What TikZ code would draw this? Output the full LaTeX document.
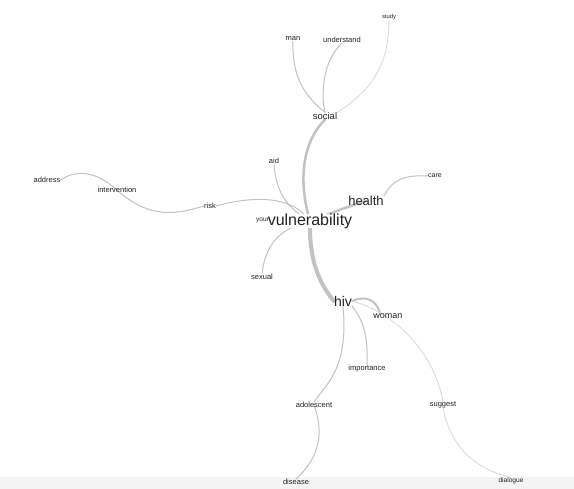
\documentclass[tikz,border=0pt]{standalone}
\usepackage{fontspec}
\setmainfont{Liberation Sans}
\usetikzlibrary{backgrounds}
\definecolor{txt}{HTML}{222222}
\definecolor{edge}{HTML}{C2C2C2}
\definecolor{edgelight}{HTML}{D8D8D8}
\definecolor{band}{HTML}{F4F4F4}
\tikzset{
  word/.style={inner sep=0pt, text=txt, font=\fontsize{7.5}{8}\selectfont},
  link/.style={draw=edge, line width=1pt, line cap=round},
  faint/.style={draw=edgelight, line width=0.8pt, line cap=round},
  trunk/.style={draw=edge, line width=#1, line cap=round},
}
\begin{document}
\begin{tikzpicture}[x=1pt,y=-1pt]
\useasboundingbox (0,0) rectangle (574,489);
% nodes
\node[word, font=\fontsize{5.8}{6}\selectfont] (study) at (389,17) {study};
\node[word] (man) at (293,39) {man};
\node[word] (understand) at (342,40) {understand};
\node[word, font=\fontsize{9.5}{10}\selectfont] (social) at (325,116) {social};
\node[word] (aid) at (274,161) {aid};
\node[word] (address) at (47,180) {address};
\node[word] (intervention) at (117,190) {intervention};
\node[word] (risk) at (210,206) {risk};
\node[word, font=\fontsize{13}{14}\selectfont] (health) at (366,201) {health};
\node[word, font=\fontsize{7}{8}\selectfont] (care) at (435,176) {care};
\node[word, font=\fontsize{6.5}{7}\selectfont] (young) at (265,220) {young};
\node[word] (sexual) at (262,277) {sexual};
\node[word, font=\fontsize{14}{15}\selectfont] (hiv) at (343,301) {hiv};
\node[word, font=\fontsize{9}{10}\selectfont] (woman) at (388,316) {woman};
\node[word] (importance) at (367,369) {importance};
\node[word] (adolescent) at (314,405) {adolescent};
\node[word] (suggest) at (443,405) {suggest};
\node[word] (disease) at (296,482) {disease};
\node[word, font=\fontsize{6.6}{7}\selectfont] (dialogue) at (511,481) {dialogue};
\node[word, font=\fontsize{16}{17}\selectfont, fill=white] (vul) at (310,221) {vulnerability};
% edges
\begin{pgfonlayer}{background}
\fill[band] (0,477) rectangle (574,489);
\draw[trunk=2.5pt] (social.south) .. controls (304,140) and (297,178) .. (vul.center);
\draw[trunk=4pt] (vul.center) .. controls (309,258) and (318,282) .. (hiv.west);
\draw[link] (man.south) .. controls (292,75) and (303,95) .. (social.north);
\draw[link] (understand.south) .. controls (322,62) and (321,95) .. (social.north);
\draw[faint] (study.south) .. controls (389,65) and (372,90) .. (social.north east);
\draw[link] (aid.south) .. controls (276,195) and (290,210) .. (vul.center);
\draw[link] (risk.east) .. controls (245,198) and (290,192) .. (vul.center);
\draw[link] (intervention.center) .. controls (150,220) and (178,214) .. (risk.west);
\draw[link] (address.east) .. controls (75,170) and (95,170) .. (intervention.center);
\draw[link] (young.east) .. controls (282,213) and (292,213) .. (vul.center);
\draw[link] (sexual.north) .. controls (265,245) and (280,228) .. (vul.center);
\draw[trunk=2.5pt] (vul.center) .. controls (330,214) and (340,209) .. (health.center);
\draw[link] (health.north east) .. controls (390,186) and (396,174) .. (care.west);
\draw[trunk=2pt] (hiv.east) .. controls (364,296) and (376,298) .. ([xshift=-8pt]woman.north);
\draw[link] (hiv.south east) .. controls (365,322) and (368,340) .. (importance.north);
\draw[link] (hiv.south) .. controls (349,370) and (325,385) .. (adolescent.north);
\draw[link] (adolescent.center) .. controls (323,430) and (322,455) .. (disease.north);
\draw[faint] (hiv.east) .. controls (402,315) and (436,360) .. (suggest.north);
\draw[faint] (suggest.south) .. controls (450,440) and (466,466) .. (dialogue.north);
\end{pgfonlayer}
\end{tikzpicture}
\end{document}
